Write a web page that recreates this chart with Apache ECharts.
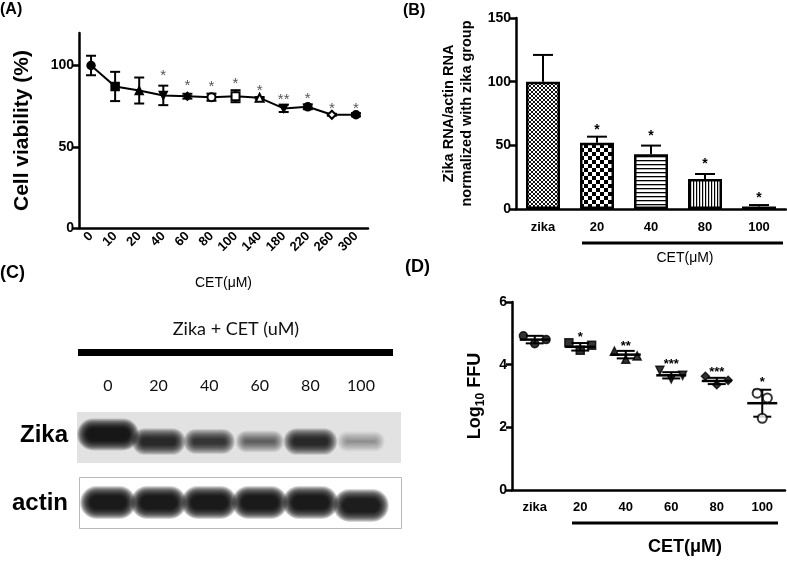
<!DOCTYPE html>
<html><head><meta charset="utf-8">
<script src="https://cdn.jsdelivr.net/npm/echarts@6/dist/echarts.min.js"></script>
<style>html,body{margin:0;padding:0;background:#fff}#c{width:787px;height:561px}</style>
</head><body><div id="c"></div>
<script>
// ---------- Panel A : cell viability ----------
const aCategories = ['0','10','20','40','60','80','100','140','180','220','260','300'];
const aMeans  = [100, 87.1, 84.6, 81.6, 81.1, 80.5, 81.1, 80.1, 73.6, 74.6, 69.7, 69.7];
const aErrors = [6, 9, 8, 6, 1.5, 2.2, 3.7, 0.5, 2.2, 1.5, 0.6, 1];
const aStars  = ['', '', '', '*', '*', '*', '*', '*', '**', '*', '*', '*'];
const aStarY  = [null, null, null, 95.9, 90.2, 89.5, 91.2, 87.1, 81.6, 82, 76, 76];
const aTicks  = [0, 50, 100];

// ---------- Panel B : Zika RNA ----------
const bCategories = ['zika','20','40','80','100'];
const bMeans  = [100, 52, 43, 23.6, 2];
const bErrors = [21, 4.8, 6.8, 3.9, 1.1];
const bStars  = ['', '*', '*', '*', '*'];
const bStarY  = [null, 65, 60.7, 38.5, 11.8];

// ---------- Panel C : western blot ----------
const cLanes = ['0','20','40','60','80','100'];
const cZika  = [1.0, 0.75, 0.65, 0.4, 0.75, 0.2];
const cActin = [1, 1, 1, 1, 1, 0.95];

// ---------- Panel D : Log10 FFU ----------
const dCategories = ['zika','20','40','60','80','100'];
const dReplicates = [[4.92,4.67,4.80],[4.70,4.46,4.62],[4.43,4.17,4.28],[3.82,3.55,3.66],[3.63,3.36,3.50],[3.09,2.29,2.94]];
const dMeans = [4.80, 4.57, 4.32, 3.66, 3.48, 2.77];
const dSD    = [0.12, 0.12, 0.12, 0.10, 0.10, 0.43];
const dStars = ['', '*', '**', '***', '***', '*'];
const dStarY = [null, 4.99, 4.70, 4.14, 3.89, 3.55];

// ---------- styling helpers ----------
const FONT = 'Liberation Sans, Arial, sans-serif';
const invTri = 'path://M0,0 L10,0 L5,9 Z';
const aSymbols = ['circle','rect','triangle',invTri,'diamond','emptyCircle','emptyRect','emptyTriangle',invTri,'circle','emptyDiamond','circle'];
const dSymbols = ['circle','rect','triangle',invTri,'diamond','circle'];
const dSpread = [-0.25, 0, 0.25];

function makePattern(kind){
  const c = document.createElement('canvas');
  let g;
  if (kind === 'cross') {
    c.width = c.height = 4; g = c.getContext('2d');
    g.fillStyle = '#fff'; g.fillRect(0,0,4,4); g.fillStyle = '#111';
    for (let i=0;i<4;i++){ g.fillRect(i,i,1,1); g.fillRect(i,3-i,1,1); }
  } else if (kind === 'checker') {
    c.width = c.height = 8; g = c.getContext('2d');
    g.fillStyle = '#fff'; g.fillRect(0,0,8,8); g.fillStyle = '#000';
    g.fillRect(0,0,4,4); g.fillRect(4,4,4,4);
  } else if (kind === 'hlines') {
    c.width = 4; c.height = 4; g = c.getContext('2d');
    g.fillStyle = '#fff'; g.fillRect(0,0,4,4); g.fillStyle = '#000'; g.fillRect(0,0,4,1.3);
  } else if (kind === 'vlines') {
    c.width = 3; c.height = 3; g = c.getContext('2d');
    g.fillStyle = '#fff'; g.fillRect(0,0,3,3); g.fillStyle = '#000'; g.fillRect(0,0,1.2,3);
  } else {
    c.width = c.height = 2; g = c.getContext('2d');
    g.fillStyle = '#222'; g.fillRect(0,0,2,2);
  }
  return {image: c, repeat: 'repeat'};
}
const bPatterns = ['cross','checker','hlines','vlines','solid'].map(makePattern);

const axLine = {show:true, onZero:false, lineStyle:{color:'#000', width:2.5}};
const tickStyle = {color:'#000', width:2.5};
const boldLabel = {color:'#000', fontWeight:'bold', fontSize:13, fontFamily:FONT};

function starSeries(xIdx, yIdx, xs, ys, texts, font, color){
  const data = [];
  texts.forEach((t,i)=>{ if (t) data.push([xs ? xs[i] : i, ys[i], t]); });
  return {
    type:'custom', xAxisIndex:xIdx, yAxisIndex:yIdx, data:data, z:5,
    renderItem:function(params, api){
      const p = api.coord([api.value(0), api.value(1)]);
      return {type:'text', x:p[0], y:p[1]+4,
        style:{text: data[params.dataIndex][2], fill:color, font:font, align:'center', verticalAlign:'middle'}};
    }
  };
}

const chart = echarts.init(document.getElementById('c'));
const option = {
  animation:false,
  backgroundColor:'#fff',
  textStyle:{fontFamily:FONT},
  grid:[
    {left:79, right:419, top:33, bottom:333},
    {left:516, right:1, top:18, bottom:352},
    {left:82.7, right:400.7, top:405, bottom:26},
    {left:512, right:2, top:302, bottom:71}
  ],
  xAxis:[
    {gridIndex:0, type:'category', data:aCategories, boundaryGap:true,
     axisLine:axLine, axisTick:{alignWithLabel:true, length:7, lineStyle:tickStyle},
     axisLabel:Object.assign({}, boldLabel, {rotate:45, margin:6, interval:0}),
     name:'CET(μM)', nameLocation:'middle', nameGap:48,
     nameTextStyle:{fontSize:14, color:'#000', fontFamily:FONT}},
    {gridIndex:1, type:'category', data:bCategories, boundaryGap:true,
     axisLine:axLine, axisTick:{alignWithLabel:true, length:8, lineStyle:tickStyle},
     axisLabel:Object.assign({}, boldLabel, {margin:12, interval:0})},
    {gridIndex:2, type:'category', data:cLanes, boundaryGap:true, position:'top',
     axisLine:{show:false}, axisTick:{show:false},
     axisLabel:{color:'#111', fontSize:16, fontFamily:'Lato, Open Sans, sans-serif', margin:11, interval:0}},
    {gridIndex:3, type:'category', data:dCategories, boundaryGap:true,
     axisLine:axLine, axisTick:{alignWithLabel:true, length:7, lineStyle:tickStyle},
     axisLabel:Object.assign({}, boldLabel, {margin:11, interval:0})},
    {gridIndex:3, type:'value', min:-0.5, max:5.5, show:false}
  ],
  yAxis:[
    {gridIndex:0, type:'value', min:0, max:120, splitLine:{show:false},
     axisLine:axLine,
     axisTick:{show:true, length:6, lineStyle:tickStyle, customValues:aTicks},
     axisLabel:Object.assign({}, boldLabel, {fontSize:14, margin:5, customValues:aTicks}),
     name:'Cell viability (%)', nameLocation:'middle', nameGap:46,
     nameTextStyle:{fontSize:21, fontWeight:'bold', color:'#000', fontFamily:FONT}},
    {gridIndex:1, type:'value', min:0, max:150, interval:50, splitLine:{show:false},
     axisLine:axLine, axisTick:{show:true, length:6, lineStyle:tickStyle},
     axisLabel:Object.assign({}, boldLabel, {fontSize:14, margin:5}),
     name:'Zika RNA/actin RNA\nnormalized with zika group', nameLocation:'middle', nameGap:40,
     nameTextStyle:{fontSize:14.5, fontWeight:'bold', color:'#000', lineHeight:18, fontFamily:FONT}},
    {gridIndex:2, type:'value', min:-0.5, max:1.5, show:false},
    {gridIndex:3, type:'value', min:0, max:6, interval:2, splitLine:{show:false},
     axisLine:axLine, axisTick:{show:true, length:6, lineStyle:tickStyle},
     axisLabel:Object.assign({}, boldLabel, {fontSize:14, margin:5}),
     name:'{a|Log}{s|10}{a| FFU}', nameLocation:'middle', nameGap:25,
     nameTextStyle:{color:'#000', rich:{
       a:{fontSize:18, fontWeight:'bold', lineHeight:24, fontFamily:FONT, color:'#000'},
       s:{fontSize:12, fontWeight:'bold', lineHeight:24, verticalAlign:'bottom', fontFamily:FONT, color:'#000'}}}}
  ],
  series:[
    // ---- A ----
    {type:'custom', xAxisIndex:0, yAxisIndex:0, z:3,
     data:aMeans.map((m,i)=>[i, m, aErrors[i]]),
     renderItem:function(params, api){
       const x = api.value(0), m = api.value(1), e = api.value(2);
       const t = api.coord([x, m+e]), b = api.coord([x, m-e]);
       const hw = 5, st = {stroke:'#000', lineWidth:2};
       return {type:'group', children:[
         {type:'line', shape:{x1:t[0],y1:t[1],x2:b[0],y2:b[1]}, style:st},
         {type:'line', shape:{x1:t[0]-hw,y1:t[1],x2:t[0]+hw,y2:t[1]}, style:st},
         {type:'line', shape:{x1:b[0]-hw,y1:b[1],x2:b[0]+hw,y2:b[1]}, style:st}
       ]};
     }},
    {type:'line', xAxisIndex:0, yAxisIndex:0, z:4,
     data:aMeans.map((m,i)=>({value:m, symbol:aSymbols[i]})),
     symbolSize:8, lineStyle:{color:'#000', width:2},
     itemStyle:{color:'#000', borderColor:'#000', borderWidth:1.5}},
    starSeries(0, 0, null, aStarY, aStars, '15px '+FONT, '#555'),
    // ---- B ----
    {type:'bar', xAxisIndex:1, yAxisIndex:1, barWidth:34, z:3,
     data:bMeans.map((m,i)=>({value:m, itemStyle:{color:bPatterns[i], borderColor:'#000', borderWidth:2.5}}))},
    {type:'custom', xAxisIndex:1, yAxisIndex:1, z:2,
     data:bMeans.map((m,i)=>[i, m, bErrors[i]]),
     renderItem:function(params, api){
       const x = api.value(0), m = api.value(1), e = api.value(2);
       const t = api.coord([x, m+e]), b = api.coord([x, m]);
       const hw = 10, st = {stroke:'#000', lineWidth:2};
       return {type:'group', children:[
         {type:'line', shape:{x1:t[0],y1:t[1],x2:b[0],y2:b[1]}, style:st},
         {type:'line', shape:{x1:t[0]-hw,y1:t[1],x2:t[0]+hw,y2:t[1]}, style:st}
       ]};
     }},
    starSeries(1, 1, null, bStarY, bStars, 'bold 14px '+FONT, '#000'),
    // ---- C ----
    {type:'custom', xAxisIndex:2, yAxisIndex:2, z:3,
     data:cZika.map((v,i)=>[i, 1, v]).concat(cActin.map((v,i)=>[i, 0, v])),
     renderItem:function(params, api){
       const lane = api.value(0), row = api.value(1), a = api.value(2);
       const p = api.coord([lane, row]);
       let w, h, dy;
       if (row === 1) { w = 36 + 14*a*a*a; h = 6 + 12*a*a; dy = (a > 0.9) ? -3 : 4; }
       else { w = 44; h = 19; dy = (a < 1) ? 3 : 0; }
       const layers = [];
       const n = 12;
       for (let k = 0; k < n; k++) {
         const ex = (n-1-k) * 0.9;
         const ww = Math.max(2, w - 8 + 2*ex), hh = Math.max(2, h - 6 + 2*ex);
         layers.push({type:'rect',
           shape:{x:p[0]-ww/2, y:p[1]+dy-hh/2, width:ww, height:hh, r:hh/2},
           style:{fill:'rgba(0,0,0,'+(a*0.17)+')'}});
       }
       return {type:'group', children:layers};
     }},
    // ---- D ----
    {type:'custom', xAxisIndex:4, yAxisIndex:3, z:3,
     data:dMeans.map((m,i)=>[i, m, dSD[i]]),
     renderItem:function(params, api){
       const x = api.value(0), m = api.value(1), e = api.value(2);
       const c = api.coord([x, m]), t = api.coord([x, m+e]), b = api.coord([x, m-e]);
       const st = {stroke:'#000', lineWidth:2};
       return {type:'group', children:[
         {type:'line', shape:{x1:c[0]-15,y1:c[1],x2:c[0]+15,y2:c[1]}, style:{stroke:'#000', lineWidth:2.5}},
         {type:'line', shape:{x1:t[0],y1:t[1],x2:b[0],y2:b[1]}, style:st},
         {type:'line', shape:{x1:t[0]-9,y1:t[1],x2:t[0]+9,y2:t[1]}, style:st},
         {type:'line', shape:{x1:b[0]-9,y1:b[1],x2:b[0]+9,y2:b[1]}, style:st}
       ]};
     }},
    {type:'scatter', xAxisIndex:4, yAxisIndex:3, z:4, symbolSize:8,
     itemStyle:{color:'#000', borderColor:'#000', borderWidth:1.5},
     data:[].concat.apply([], dReplicates.map((reps,i)=>reps.map((v,j)=>({
       value:[i + dSpread[j]*(i===5?0.45:1), v], symbol:dSymbols[i],
       symbolSize: i===5 ? 9 : 8,
       itemStyle: i===5 ? {color:'#fff', borderColor:'#000', borderWidth:2} : undefined}))))},
    starSeries(4, 3, [0,1,2,3,4,5], dStarY, dStars, 'bold 13px '+FONT, '#000')
  ],
  graphic:[
    {type:'text', left:0, top:2, style:{text:'(A)', font:'bold 16px '+FONT, fill:'#000'}},
    {type:'text', left:403, top:3, style:{text:'(B)', font:'bold 16px '+FONT, fill:'#000'}},
    {type:'text', left:0, top:264, style:{text:'(C)', font:'bold 18px '+FONT, fill:'#000'}},
    {type:'text', left:405, top:258, style:{text:'(D)', font:'bold 18px '+FONT, fill:'#000'}},
    // B bracket
    {type:'line', shape:{x1:582, y1:243, x2:783, y2:243}, style:{stroke:'#000', lineWidth:3}},
    {type:'text', x:685, y:258, style:{text:'CET(μM)', font:'14px '+FONT, fill:'#000', align:'center', verticalAlign:'middle'}},
    // D bracket
    {type:'line', shape:{x1:572, y1:523, x2:778, y2:523}, style:{stroke:'#000', lineWidth:3}},
    {type:'text', x:685, y:547, style:{text:'CET(μM)', font:'bold 18px '+FONT, fill:'#000', align:'center', verticalAlign:'middle'}},
    // C blot frame
    {type:'text', x:236, y:329, style:{text:'Zika + CET (uM)', font:'18px Lato, Open Sans, sans-serif', fill:'#111', align:'center', verticalAlign:'middle'}},
    {type:'rect', shape:{x:78, y:349, width:315, height:7}, style:{fill:'#000'}},
    {type:'rect', shape:{x:77, y:412, width:324, height:51}, style:{fill:'#e2e2e2'}},
    {type:'rect', shape:{x:79.5, y:477.5, width:322, height:51}, style:{fill:'#fff', stroke:'#b8b8b8', lineWidth:1}},
    {type:'text', x:68, y:435, style:{text:'Zika', font:'bold 24px '+FONT, fill:'#000', align:'right', verticalAlign:'middle'}},
    {type:'text', x:68, y:503, style:{text:'actin', font:'bold 24px '+FONT, fill:'#000', align:'right', verticalAlign:'middle'}}
  ]
};
chart.setOption(option);
</script>
</body></html>
